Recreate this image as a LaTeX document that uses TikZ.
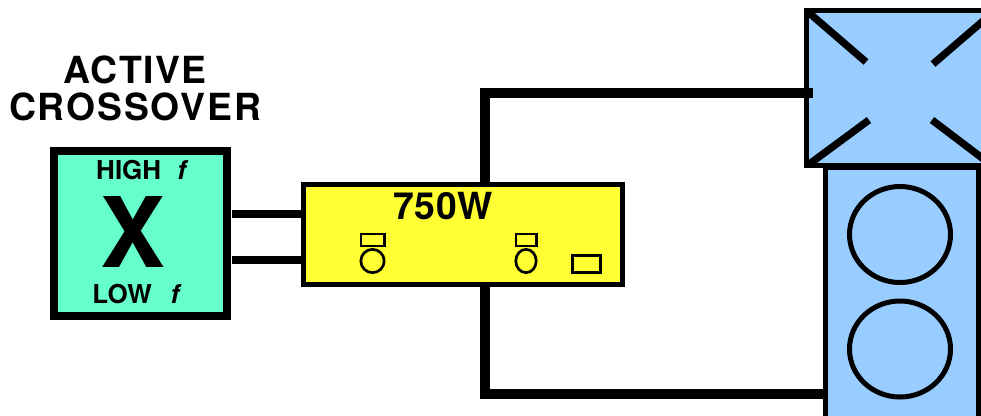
\documentclass[tikz,border=0pt]{standalone}
\usepackage{fontspec}
\usetikzlibrary{shapes.geometric}
\setmainfont{TeX Gyre Heros}
\definecolor{xgreen}{HTML}{66FFCC}
\definecolor{ampyellow}{HTML}{FFFF33}
\definecolor{spkblue}{HTML}{99CCFF}
\tikzset{
    box/.style={draw,line width=#1,inner sep=0pt},
    txt/.style={font=\fontsize{#1}{#1}\bfseries,inner sep=0pt,anchor=center},
    wire/.style={line width=#1},
    ampline/.style={draw,line width=2pt,inner sep=0pt},
    cone/.style={draw,ellipse,line width=3.75pt,inner sep=0pt,minimum width=75.75pt,minimum height=72pt},
    hornline/.style={line width=5.5pt}
}
\begin{document}
\begin{tikzpicture}[x=0.75pt,y=-0.75pt]
                \useasboundingbox (0,0) rectangle (981,415);
                \clip (0,0) rectangle (981,415);
                \coordinate (hornin) at (812.7,93);
                \coordinate (ampT) at (484.7,190);
                \coordinate (ampB) at (484.7,280);
                \coordinate (bassin) at (830,394);
                \coordinate (hi) at (232,214.3);
                \coordinate (lo) at (232,260.3);
                % horn on top, bass box below it
                \node[box=3.75pt,fill=spkblue,minimum width=145pt,minimum height=116.25pt] (horn) at (903.25,87.75) {};
                \draw[hornline] (808,12) -- (866,62);
                \draw[hornline] (933,64) -- (990,15);
                \draw[hornline] (869,120) -- (808,165);
                \draw[hornline] (932,120) -- (990,164);
                \draw[wire=7.5pt] (hornin) -| (ampT);
                \draw[wire=7.5pt] (ampB) |- (bassin);
                \node[box=3.75pt,fill=spkblue,minimum width=114.75pt,minimum height=195pt] (bass) at (902,297.5) {};
                \node[cone] (woofA) at (900,234.5) {};
                \node[cone] (woofB) at (900,349) {};
                % crossover
                \node[box=6pt,fill=xgreen,minimum width=130.1pt,minimum height=123.75pt] (xover) at (140.75,233.5) {};
                \node[txt=28] (active) at (135,70) {\addfontfeature{LetterSpace=4}ACTIVE};
                \node[txt=28] (cross) at (135,107) {\addfontfeature{LetterSpace=5}CROSSOVER};
                \node[txt=19.5] (high) at (142.3,170) {HIGH\hspace{0.62em}\textit{f}};
                \node[txt=73] (xmark) at (133,232) {X};
                \node[txt=19.5] (low) at (137,294) {LOW\hspace{0.72em}\textit{f}};
                % amplifier
                \node[box=3.75pt,fill=ampyellow,minimum width=239.6pt,minimum height=75pt] (amp) at (463.25,234.5) {};
                \draw[wire=6pt] (hi) -- (hi -| amp.west);
                \draw[wire=6pt] (lo) -- (lo -| amp.west);
                \node[txt=28] (power) at (443,206) {\addfontfeature{LetterSpace=1.5}750W};
                \node[ampline,minimum width=17.5pt,minimum height=9pt] (knobA) at (372.8,240) {};
                \node[ampline,circle,minimum size=17.5pt] (dialA) at (372.5,261) {};
                \node[ampline,minimum width=15.2pt,minimum height=9pt] (knobB) at (526.2,240) {};
                \node[ampline,ellipse,minimum width=15.3pt,minimum height=17.5pt] (dialB) at (526,261) {};
                \node[ampline,minimum width=21pt,minimum height=13pt] (socket) at (586.3,264) {};
            \end{tikzpicture}
\end{document}
